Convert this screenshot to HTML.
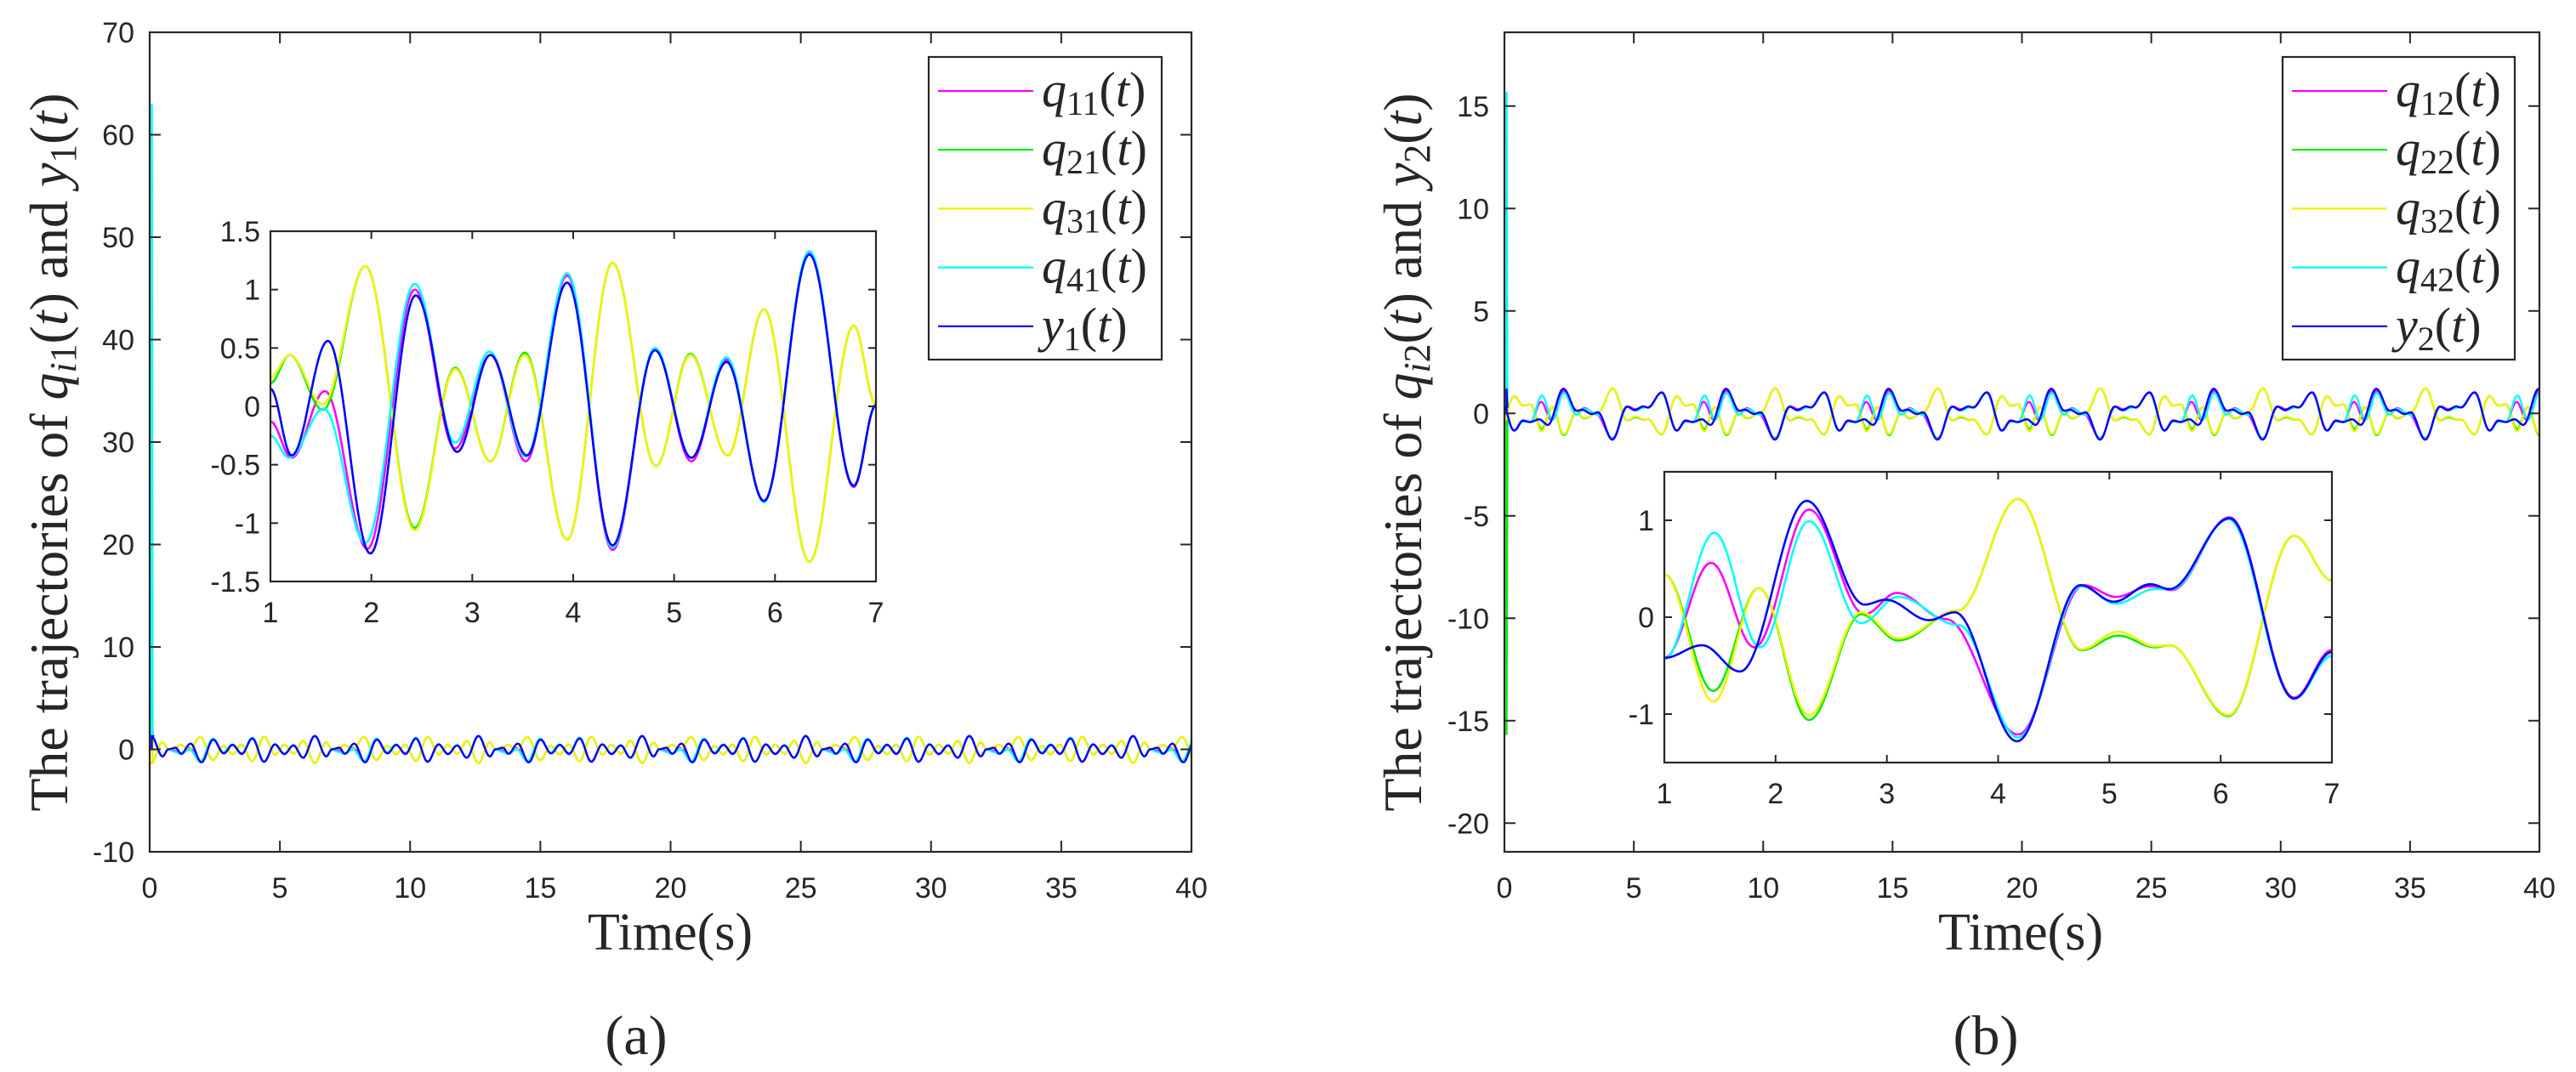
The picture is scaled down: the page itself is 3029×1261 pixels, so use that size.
<!DOCTYPE html>
<html><head><meta charset="utf-8">
<style>
html,body{margin:0;padding:0;background:#fff;}
svg{display:block;}
.tk{font-family:"Liberation Sans",sans-serif;font-size:34px;fill:#262626;}
.ser{font-family:"Liberation Serif",serif;fill:#262626;}
</style></head>
<body>
<svg id="fig" width="3029" height="1261" viewBox="0 0 3029 1261" xmlns="http://www.w3.org/2000/svg">
<rect width="3029" height="1261" fill="#fff"/>
</svg>
<script>
// ---------- data ----------
// Panel (a) inset: extrema knots (time, value)
const aQ11T=[1,1.21,1.54,1.96,2.43,2.83,3.18,3.53,3.94,4.39,4.81,5.17,5.52,5.89,6.34,6.78,7.0];
const aQ11V=[-0.13,-0.44,0.13,-1.22,1.0,-0.36,0.44,-0.47,1.12,-1.23,0.49,-0.47,0.40,-0.81,1.32,-0.69,0.01];
const aQ21T=[1,1.19,1.52,1.94,2.43,2.83,3.18,3.52,3.94,4.39,4.82,5.16,5.53,5.89,6.34,6.78,7.0];
const aQ21V=[0.20,0.44,-0.03,1.20,-1.04,0.33,-0.47,0.46,-1.14,1.23,-0.51,0.45,-0.42,0.83,-1.33,0.69,0.02];
const aQ31T=[1,1.19,1.52,1.94,2.43,2.83,3.18,3.52,3.94,4.39,4.82,5.16,5.53,5.89,6.34,6.78,7.0];
const aQ31V=[0.25,0.44,0.02,1.20,-1.06,0.32,-0.47,0.44,-1.14,1.23,-0.51,0.44,-0.42,0.83,-1.33,0.69,0.02];
const aQ41T=[1,1.185,1.53,1.94,2.43,2.83,3.17,3.53,3.94,4.39,4.81,5.17,5.52,5.89,6.34,6.78,7.0];
const aQ41V=[-0.25,-0.44,-0.02,-1.17,1.05,-0.31,0.47,-0.43,1.14,-1.21,0.50,-0.44,0.42,-0.82,1.33,-0.68,0.01];
const aY1T=[1,1.21,1.57,1.99,2.44,2.85,3.18,3.54,3.94,4.39,4.81,5.17,5.52,5.89,6.34,6.78,7.0];
const aY1V=[0.15,-0.42,0.56,-1.26,0.95,-0.39,0.44,-0.42,1.06,-1.19,0.48,-0.44,0.38,-0.81,1.30,-0.68,0.01];
const aSpike=[6,6,6,63,1.2]; // initial values at t=0 for q11,q21,q31,q41,y1
// Panel (b) inset
const bQ12T=[1,1.42,1.81,2.30,2.80,3.09,3.53,4.18,4.77,5.06,5.37,5.56,6.08,6.66,7.0];
const bQ12V=[-0.42,0.56,-0.31,1.11,0.03,0.25,-0.02,-1.21,0.33,0.21,0.32,0.28,1.03,-0.83,-0.34];
const bQ22T=[1,1.44,1.85,2.30,2.77,3.10,3.64,4.18,4.75,5.08,5.41,5.54,6.07,6.66,7.0];
const bQ22V=[0.44,-0.76,0.30,-1.06,0.03,-0.24,0.07,1.22,-0.34,-0.19,-0.31,-0.29,-1.02,0.84,0.38];
const bQ32T=[1,1.44,1.85,2.30,2.77,3.10,3.64,4.18,4.75,5.08,5.41,5.54,6.07,6.66,7.0];
const bQ32V=[0.44,-0.87,0.30,-1.01,0.05,-0.22,0.07,1.22,-0.33,-0.15,-0.30,-0.29,-1.01,0.84,0.38];
const bQ42T=[1,1.45,1.86,2.30,2.77,3.10,3.64,4.18,4.75,5.06,5.41,5.56,6.07,6.66,7.0];
const bQ42V=[-0.43,0.87,-0.31,0.99,-0.06,0.21,-0.08,-1.24,0.32,0.14,0.29,0.29,1.01,-0.84,-0.40];
const bY2T=[1,1.34,1.68,2.28,2.80,2.99,3.38,3.61,4.17,4.74,5.04,5.37,5.54,6.08,6.66,7.0];
const bY2V=[-0.42,-0.29,-0.56,1.20,0.13,0.18,-0.03,0.05,-1.28,0.33,0.16,0.34,0.29,1.02,-0.84,-0.36];
const bSpike=[1.5,-15.7,1.5,15.7,1.2];
const PERIOD=6.283; // repetition period of the steady-state trajectories
const colors=['#ff00ff','#00ee00','#f2f200','#00ffff','#0000ff'];
const xTicksMain=[0,5,10,15,20,25,30,35,40];
const aYTicks=[-10,0,10,20,30,40,50,60,70];
const bYTicks=[-20,-15,-10,-5,0,5,10,15];
const insetXTicks=[1,2,3,4,5,6,7];
const aInsetYTicks=[-1.5,-1,-0.5,0,0.5,1,1.5];
const bInsetYTicks=[-1,0,1];

const NS='http://www.w3.org/2000/svg';
const svg=document.getElementById('fig');
function mk(tag,attrs,parent){const e=document.createElementNS(NS,tag);for(const k in attrs)e.setAttribute(k,attrs[k]);(parent||svg).appendChild(e);return e;}
function lin(d0,d1,r0,r1){return v=>r0+(v-d0)/(d1-d0)*(r1-r0);}
function interp(T,V,t){
  if(t<=T[0])return V[0];
  for(let i=0;i<T.length-1;i++){if(t<=T[i+1]){const f=(t-T[i])/(T[i+1]-T[i]);const w=(1-Math.cos(Math.PI*f))/2;return V[i]+(V[i+1]-V[i])*w;}}
  return V[V.length-1];
}
function periodic(T,V,t){
  const TT=T.concat([T[0]+PERIOD]),VV=V.concat([V[0]]);
  let u=((t-T[0])%PERIOD+PERIOD)%PERIOD+T[0];
  return interp(TT,VV,u);
}
function axesBox(g,x0,y0,x1,y1,sx,sy,xt,yt,tl,name,xlabY,ylabR){
  mk('rect',{x:x0,y:y0,width:x1-x0,height:y1-y0,fill:'none',stroke:'#262626','stroke-width':2.2},g);
  xt.forEach(v=>{const x=sx(v);
    mk('line',{x1:x,y1:y1,x2:x,y2:y1-tl,stroke:'#262626','stroke-width':2},g);
    mk('line',{x1:x,y1:y0,x2:x,y2:y0+tl,stroke:'#262626','stroke-width':2},g);
    const t=mk('text',{x:x,y:xlabY,'text-anchor':'middle','class':'tk'},g);t.textContent=String(v);
    
    
  });
  yt.forEach(v=>{const y=sy(v);
    mk('line',{x1:x0,y1:y,x2:x0+tl,y2:y,stroke:'#262626','stroke-width':2},g);
    mk('line',{x1:x1,y1:y,x2:x1-tl,y2:y,stroke:'#262626','stroke-width':2},g);
    const t=mk('text',{x:ylabR,y:y+12,'text-anchor':'end','class':'tk'},g);t.textContent=String(v);
    
    
  });
}
function pathFrom(fn,t0,t1,n,sx,sy){let d='';for(let i=0;i<=n;i++){const t=t0+(t1-t0)*i/n;d+=(i?'L':'M')+sx(t).toFixed(2)+' '+sy(fn(t)).toFixed(2);}return d;}

function panel(cfg){
  const g=mk('g',{});
  
  
  const sx=lin(0,40,cfg.x0,cfg.x1),sy=lin(cfg.ymin,cfg.ymax,1002,38);
  mk('rect',{x:cfg.x0,y:38,width:cfg.x1-cfg.x0,height:964,fill:'#fff'},g);
  const sg=mk('g',{},g);
  
  
  cfg.series.forEach((s,i)=>{
    const fn=t=>periodic(s[0],s[1],t);
    const xs=sx(0)+2.5;
    let d='M'+xs.toFixed(2)+' '+sy(0).toFixed(2)+'L'+xs.toFixed(2)+' '+sy(cfg.spike[i]).toFixed(2)+'L'+(xs+1).toFixed(2)+' '+sy(fn(0.04)).toFixed(2);
    d+=pathFrom(fn,0.04,40,2400,sx,sy).replace(/^M/,'L');
    const p=mk('path',{d:d,fill:'none',stroke:colors[i],'stroke-width':2.4},sg);
    
    
  });
  axesBox(g,cfg.x0,38,cfg.x1,1002,sx,sy,xTicksMain,cfg.yticks,13,cfg.name,1056,cfg.ylabR);
  // inset
  const ig=mk('g',{},g);
  
  
  const I=cfg.inset;
  mk('rect',{x:I.x0,y:I.y0,width:I.x1-I.x0,height:I.y1-I.y0,fill:'#fff'},ig);
  const isx=lin(1,7,I.x0,I.x1),isy=lin(-1.5,1.5,I.y1,I.y0);
  const clip=mk('clipPath',{id:cfg.name+'clip'},ig);
  mk('rect',{x:I.x0,y:I.y0,width:I.x1-I.x0,height:I.y1-I.y0},clip);
  cfg.series.forEach((s,i)=>{
    const p=mk('path',{d:pathFrom(t=>interp(s[0],s[1],t),1,7,600,isx,isy),fill:'none',stroke:colors[i],'stroke-width':2.6,'clip-path':'url(#'+cfg.name+'clip)'},ig);
    
    
  });
  axesBox(ig,I.x0,I.y0,I.x1,I.y1,isx,isy,insetXTicks,cfg.iyticks,9,cfg.name+'-inset',I.y1+48,I.x0-12);
  // legend
  const L=cfg.legend;
  const lg=mk('g',{},g);
  
  
  mk('rect',{x:L.x0,y:67,width:L.x1-L.x0,height:356,fill:'#fff',stroke:'#262626','stroke-width':2.2},lg);
  cfg.labels.forEach((lb,i)=>{
    const y=107+i*69.2;
    const e=mk('g',{},lg);
    
    
    mk('line',{x1:L.x0+11,y1:y,x2:L.x0+123,y2:y,stroke:colors[i],'stroke-width':2.2},e);
    const t=mk('text',{x:L.x0+133,y:y+18,'class':'ser','font-size':58},e);
    t.innerHTML='<tspan font-style="italic">'+lb.main+'</tspan><tspan font-size="40" dy="10">'+lb.sub+'</tspan><tspan dy="-10">(</tspan><tspan font-style="italic">t</tspan><tspan>)</tspan>';
  });
  // labels
  const xl=mk('text',{x:cfg.xlabX,y:1117,'text-anchor':'middle','class':'ser','font-size':62},g);
  xl.textContent='Time(s)';
  
  
  const yl=mk('text',{x:0,y:0,'text-anchor':'middle','class':'ser','font-size':64,textLength:845,lengthAdjust:'spacingAndGlyphs',transform:'translate('+(cfg.ylabX+21)+',532) rotate(-90)'},g);
  yl.innerHTML='The trajectories of <tspan font-style="italic">q</tspan><tspan font-size="44" dy="10"><tspan font-style="italic">i</tspan>'+cfg.k+'</tspan><tspan dy="-10">(</tspan><tspan font-style="italic">t</tspan>) and <tspan font-style="italic">y</tspan><tspan font-size="44" dy="10">'+cfg.k+'</tspan><tspan dy="-10">(</tspan><tspan font-style="italic">t</tspan>)';
  
  
  const cap=mk('text',{x:cfg.capX,y:1240,'text-anchor':'middle','class':'ser','font-size':66},g);
  cap.textContent=cfg.cap;
  
  
}
panel({name:'panel-a',x0:176,x1:1401,ymin:-10,ymax:70,yticks:aYTicks,ylabR:158,
  series:[[aQ11T,aQ11V],[aQ21T,aQ21V],[aQ31T,aQ31V],[aQ41T,aQ41V],[aY1T,aY1V]],spike:aSpike,
  inset:{x0:318,x1:1030,y0:272,y1:684},iyticks:aInsetYTicks,
  legend:{x0:1092,x1:1366},
  labels:[{id:'q11',main:'q',sub:'11'},{id:'q21',main:'q',sub:'21'},{id:'q31',main:'q',sub:'31'},{id:'q41',main:'q',sub:'41'},{id:'y1',main:'y',sub:'1'}],
  xlabX:788,ylabX:58,k:'1',capX:748,cap:'(a)'});
panel({name:'panel-b',x0:1769,x1:2986,ymin:-21.4,ymax:18.6,yticks:bYTicks,ylabR:1751,
  series:[[bQ12T,bQ12V],[bQ22T,bQ22V],[bQ32T,bQ32V],[bQ42T,bQ42V],[bY2T,bY2V]],spike:bSpike,
  inset:{x0:1957,x1:2742,y0:555,y1:897},iyticks:bInsetYTicks,
  legend:{x0:2684,x1:2957},
  labels:[{id:'q12',main:'q',sub:'12'},{id:'q22',main:'q',sub:'22'},{id:'q32',main:'q',sub:'32'},{id:'q42',main:'q',sub:'42'},{id:'y2',main:'y',sub:'2'}],
  xlabX:2376,ylabX:1650,k:'2',capX:2335,cap:'(b)'});
</script>
</body></html>
